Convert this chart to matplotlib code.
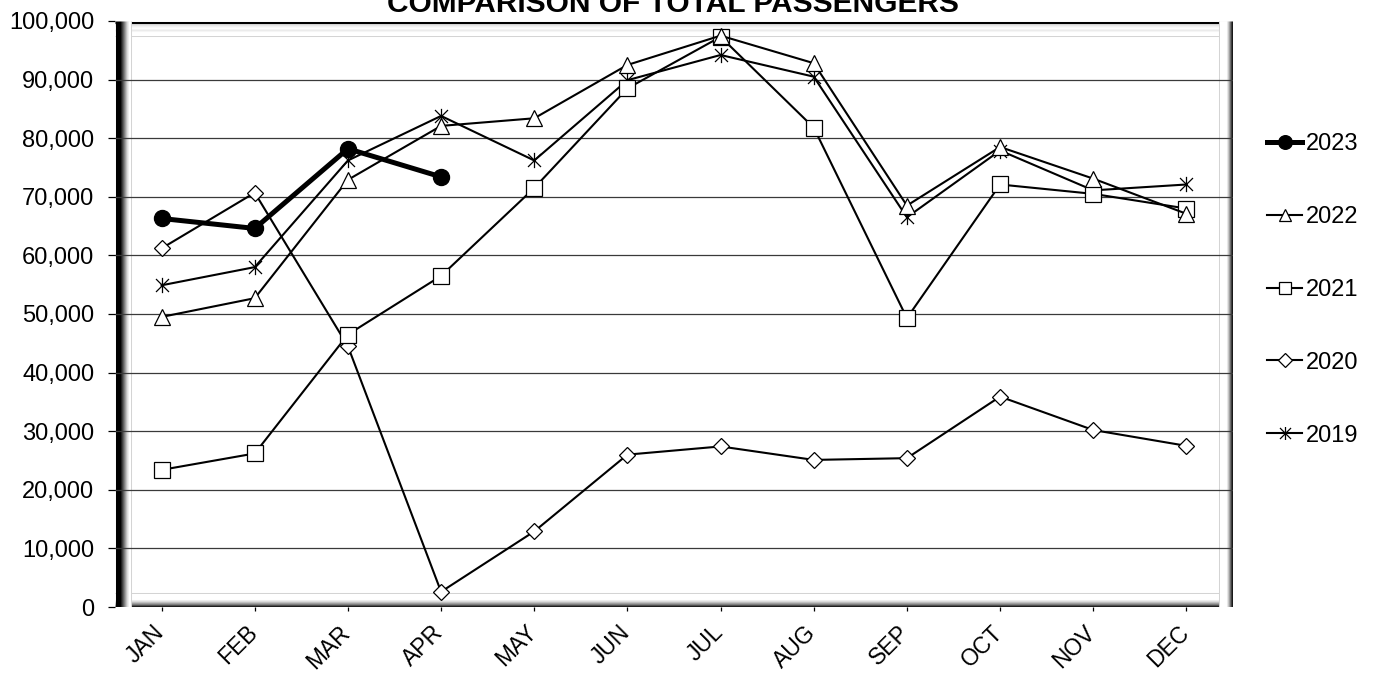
import numpy as np
import matplotlib
matplotlib.use('Agg')
import matplotlib.pyplot as plt
from matplotlib.path import Path
from matplotlib.lines import Line2D
from matplotlib.transforms import ScaledTranslation

plt.rcParams['font.family'] = ['Liberation Sans', 'DejaVu Sans']

# Monthly passenger totals
months = ['JAN', 'FEB', 'MAR', 'APR', 'MAY', 'JUN', 'JUL', 'AUG', 'SEP', 'OCT', 'NOV', 'DEC']
pax_2023 = [66300, 64600, 78200, 73400]
pax_2022 = [49500, 52700, 72900, 82100, 83400, 92500, 97500, 92800, 68500, 78500, 73100, 67100]
pax_2021 = [23400, 26200, 46500, 56500, 71500, 88500, 97300, 81800, 49300, 72100, 70500, 68000]
pax_2020 = [61200, 70700, 44500, 2600, 12900, 26000, 27400, 25100, 25400, 35900, 30200, 27500]
pax_2019 = [54900, 58000, 76200, 83800, 76200, 89900, 94200, 90500, 66500, 77900, 71100, 72100]
yticks = np.arange(0, 100001, 10000)

# asterisk style marker (vertical bar + X)
star = Path([(0, -1), (0, 1), (-0.85, -0.85), (0.85, 0.85), (-0.85, 0.85), (0.85, -0.85)],
            [Path.MOVETO, Path.LINETO, Path.MOVETO, Path.LINETO, Path.MOVETO, Path.LINETO])

W, H = 1374, 673
fig = plt.figure(figsize=(W/100, H/100), dpi=100)
L, T, R, B = 115, 21, 1233, 607
ax = fig.add_axes([L/W, 1-B/H, (R-L)/W, (B-T)/H])
aw, ah = R-L, B-T

x = np.arange(len(months))
ax.set_xlim(-0.5, len(months)-0.5)
ax.set_ylim(0, 100000)

# bevelled plot-area frame, drawn one pixel strip at a time
def strip(side, k, c):
    fx, fy = (k+0.5)/aw, (k+0.5)/ah
    if side == 'left':
        xs, ys = [fx, fx], [0, 1]
    elif side == 'right':
        xs, ys = [1-fx, 1-fx], [0, 1]
    elif side == 'top':
        xs, ys = [0, 1], [1-fy, 1-fy]
    else:
        xs, ys = [0, 1], [fy, fy]
    ax.add_line(Line2D(xs, ys, transform=ax.transAxes, color=c, lw=0.75,
                       zorder=0.5, solid_capstyle='butt'))

top_cols = ['#000000', '#000000', '#d8d8d8', '#e8e8e8', '#f2f2f2', '#fafafa', '#ffffff',
            '#f4f4f4', '#ebebeb', '#f6f6f6', '#ffffff', '#ffffff', '#ffffff', '#ffffff', '#d4d4d4']
left_cols = ['#000000']*5 + ['#202020', '#404040', '#606060', '#808080', '#a0a0a0', '#c0c0c0',
                             '#dcdcdc', '#eeeeee', '#ffffff', '#ffffff', '#d4d4d4']
right_cols = ['#000000', '#1a1a1a', '#404040', '#707070', '#a0a0a0', '#c8c8c8', '#e8e8e8',
              '#ffffff', '#ffffff', '#ffffff', '#ffffff', '#ffffff', '#ffffff', '#ffffff', '#d4d4d4']
bottom_cols = ['#000000', '#202020', '#505050', '#808080', '#a0a0a0', '#c0c0c0', '#dcdcdc',
               '#eeeeee', '#ffffff', '#ffffff', '#ffffff', '#ffffff', '#ffffff', '#ffffff', '#d4d4d4']
for side, cols in [('top', top_cols), ('bottom', bottom_cols), ('right', right_cols), ('left', left_cols)]:
    for k in range(len(cols)-1, -1, -1):
        strip(side, k, cols[k])

for yv in yticks[1:-1]:
    ax.axhline(yv, color='#3a3a3a', lw=0.9, zorder=1)

for s in ax.spines.values():
    s.set_visible(False)

ax.plot(x, pax_2019, color='black', lw=1.5, marker=star, ms=11, mfc='none', mec='black',
        mew=0.9, label='2019', zorder=3, clip_on=False)
ax.plot(x, pax_2020, color='black', lw=1.5, marker='D', ms=8, mfc='white', mec='black',
        mew=0.9, label='2020', zorder=3, clip_on=False)
ax.plot(x, pax_2021, color='black', lw=1.5, marker='s', ms=11, mfc='white', mec='black',
        mew=0.9, label='2021', zorder=3, clip_on=False)
ax.plot(x, pax_2022, color='black', lw=1.5, marker='^', ms=11, mfc='white', mec='black',
        mew=0.9, label='2022', zorder=3, clip_on=False)
ax.plot(x[:len(pax_2023)], pax_2023, color='black', lw=3.6, marker='o', ms=11.5,
        mfc='black', mec='black', label='2023', zorder=4, clip_on=False)

ax.set_yticks(yticks)
ax.set_yticklabels(['{:,}'.format(v) for v in yticks], fontsize=17)
ax.set_xticks(x)
ax.set_xticklabels(months, fontsize=16.5, rotation=45, ha='right')
ax.tick_params(axis='y', length=5, width=0.9, pad=10)
ax.tick_params(axis='x', length=3, width=0.9, pad=7)
# nudge month labels right so their ends sit over the tick like the original
shift = ScaledTranslation(5/72, 0, fig.dpi_scale_trans)
for lbl in ax.get_xticklabels():
    lbl.set_transform(lbl.get_transform() + shift)

h, l = ax.get_legend_handles_labels()
leg = fig.legend(h[::-1], l[::-1], loc='upper left', bbox_to_anchor=(1258/W, 1-124/H),
                 frameon=False, fontsize=17, handlelength=1.45, handletextpad=0.17,
                 labelspacing=2.15, markerscale=0.85, borderaxespad=0)

fig.text(673/W, 1-12/H, 'COMPARISON OF TOTAL PASSENGERS', ha='center', va='baseline',
         fontsize=21.5, fontweight='bold')

fig.savefig('out.png', dpi=100)
